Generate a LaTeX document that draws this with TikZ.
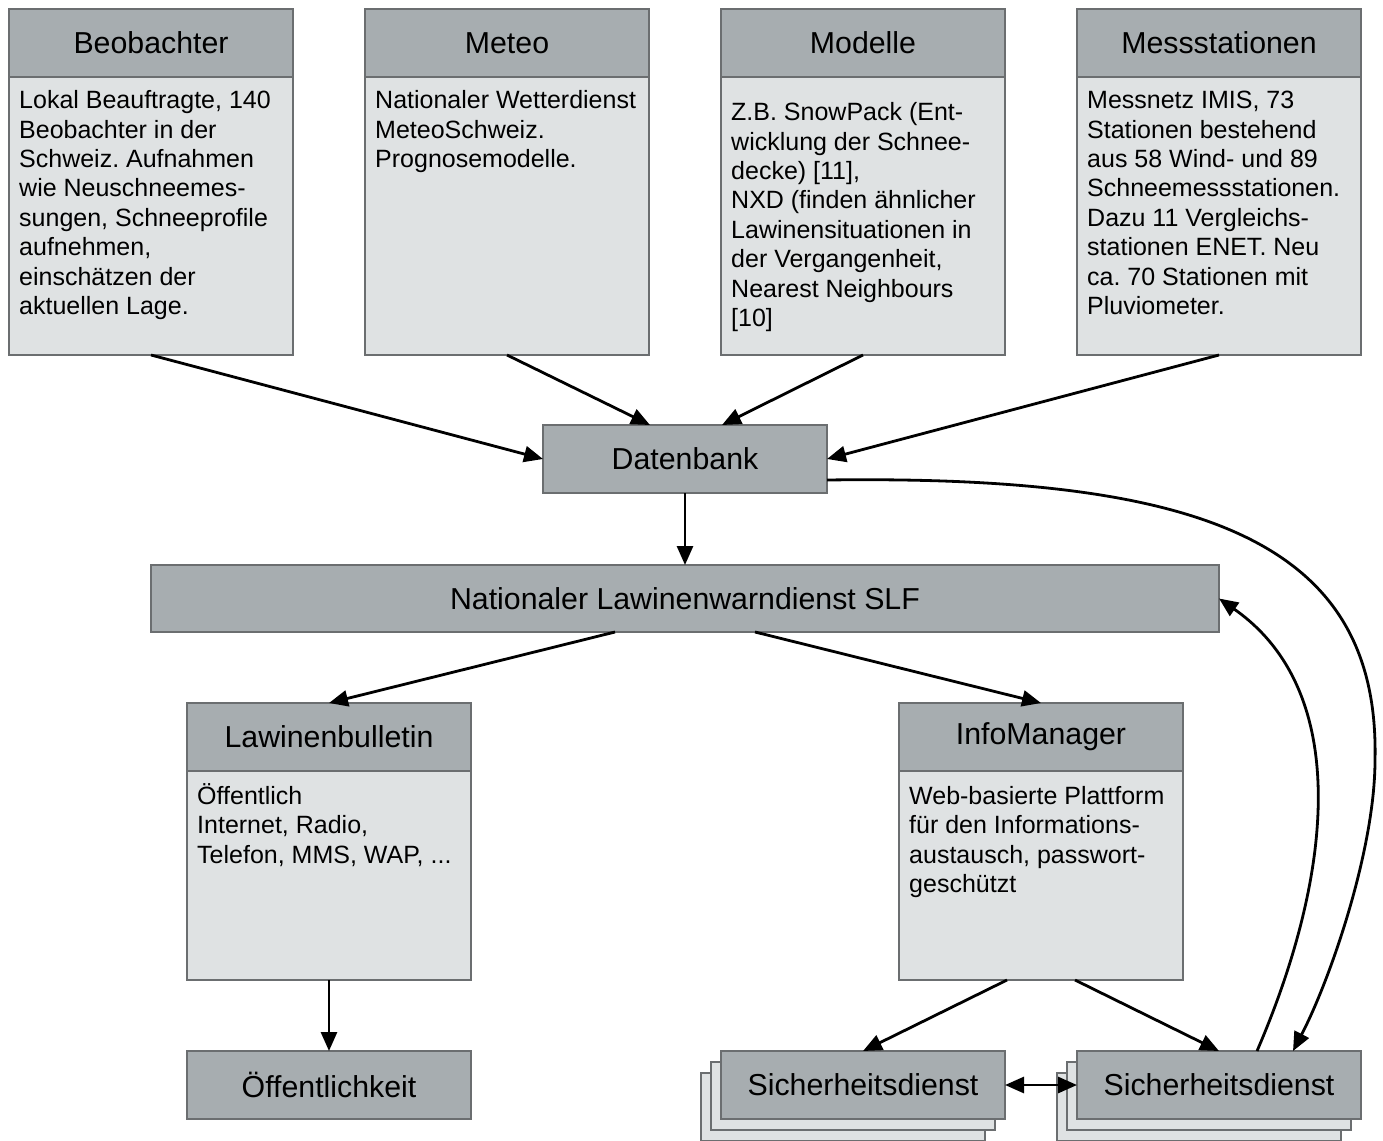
\documentclass[tikz,border=0pt]{standalone}
\usepackage{fontspec}
\setmainfont{Liberation Sans}
\usetikzlibrary{arrows.meta}
\definecolor{hdr}{HTML}{A7ADB0}
\definecolor{bdy}{HTML}{DFE2E3}
\definecolor{brd}{HTML}{6B6E70}
\frenchspacing
\tikzset{
 hdrbox/.style={draw=brd, fill=hdr, line width=1.2pt, minimum width=284pt, minimum height=68pt, inner sep=0pt, outer sep=0pt, font=\fontsize{30.3}{35}\selectfont},
 bdybox/.style={draw=brd, fill=bdy, line width=1.2pt, minimum width=284pt, inner sep=0pt, outer sep=0pt, anchor=north west},
 bodytext/.style={anchor=north west, inner sep=0pt, align=left, font=\fontsize{25}{29.4}\selectfont},
 arr/.style={line width=2.8pt, -{Triangle[length=19pt,width=16pt]}},
 darr/.style={line width=2.8pt, {Triangle[length=19pt,width=16pt]}-{Triangle[length=19pt,width=16pt]}},
}
\newcommand{\infobox}[7]{%
 \node[bdybox, minimum height=#4pt] (#1b) at (#2,#3+68) {};
 \node[hdrbox, anchor=north west] (#1h) at (#2,#3) {#5};
 \node[bodytext] (#1t) at (#2+10,#3+68+#6) {\rule{0pt}{23pt}#7};
}
\begin{document}
\frenchspacing
\begin{tikzpicture}[x=1pt,y=-1pt]
\useasboundingbox (0,0) rectangle (1383,1140);
\fill[white] (0,0) rectangle (1383,1140);

\infobox{beo}{9}{9}{278}{Beobachter}{8.5}{Lokal Beauftragte, 140\\Beobachter in der\\Schweiz. Aufnahmen\\wie Neuschneemes-\\sungen, Schneeprofile\\aufnehmen,\\einschätzen der\\aktuellen Lage.}
\infobox{met}{365}{9}{278}{Meteo}{8.5}{Nationaler Wetterdienst\\MeteoSchweiz.\\Prognosemodelle.}
\infobox{mod}{721}{9}{278}{Modelle}{20.5}{Z.B. SnowPack (Ent-\\wicklung der Schnee-\\decke) [11],\\NXD (finden ähnlicher\\Lawinensituationen in\\der Vergangenheit,\\Nearest Neighbours\\\relax[10]}
\infobox{mes}{1077}{9}{278}{Messstationen}{8.5}{Messnetz IMIS, 73\\Stationen bestehend\\aus 58 Wind- und 89\\Schneemessstationen.\\Dazu 11 Vergleichs-\\stationen ENET. Neu\\ca. 70 Stationen mit\\Pluviometer.}

\node[hdrbox, anchor=north west] (dbank) at (543,425) {Datenbank};
\node[hdrbox, anchor=north west, minimum width=1068pt, minimum height=67pt] (slf) at (151,565) {Nationaler Lawinenwarndienst SLF};

\infobox{law}{187}{703}{209}{Lawinenbulletin}{10}{Öffentlich\\Internet, Radio,\\Telefon, MMS, WAP, ...}
\infobox{inf}{899}{703}{209}{InfoManager}{10}{Web-basierte Plattform\\für den Informations-\\austausch, passwort-\\geschützt}

\node[hdrbox, anchor=north west] (oeff) at (187,1051) {Öffentlichkeit};

\node[hdrbox, fill=bdy, anchor=north west] (s1c) at (701,1073) {};
\node[hdrbox, fill=bdy, anchor=north west] (s1b) at (711,1062) {};
\node[hdrbox, anchor=north west] (s1) at (721,1051) {Sicherheitsdienst};

\node[hdrbox, fill=bdy, anchor=north west] (s2c) at (1057,1073) {};
\node[hdrbox, fill=bdy, anchor=north west] (s2b) at (1067,1062) {};
\node[hdrbox, anchor=north west] (s2) at (1077,1051) {Sicherheitsdienst};

\draw[arr] (beob.south) -- (dbank.west);
\draw[arr] (metb.south) -- ([xshift=-35pt]dbank.north);
\draw[arr] (modb.south) -- ([xshift=37pt]dbank.north);
\draw[arr] (mesb.south) -- (dbank.east);
\draw[arr] (dbank.south) -- (slf.north);
\draw[arr] ([xshift=-70pt]slf.south) -- (lawh.north);
\draw[arr] ([xshift=70pt]slf.south) -- (infh.north);
\draw[arr] (lawb.south) -- (oeff.north);
\draw[arr] ([xshift=-34pt]infb.south) -- (s1.north);
\draw[arr] ([xshift=34pt]infb.south) -- (s2.north);
\draw[darr] (s1.east) -- (s2.west);

\coordinate (cmid) at (1375,760);
\draw[arr] ([yshift=-21pt]dbank.east) .. controls (1200,475) and (1380,540) .. (cmid) .. controls (1375,850) and (1330,980) .. ([xshift=74pt]s2.north);
\draw[arr] ([xshift=38pt]s2.north) .. controls (1335,870) and (1350,690) .. (slf.east);
\end{tikzpicture}
\end{document}
